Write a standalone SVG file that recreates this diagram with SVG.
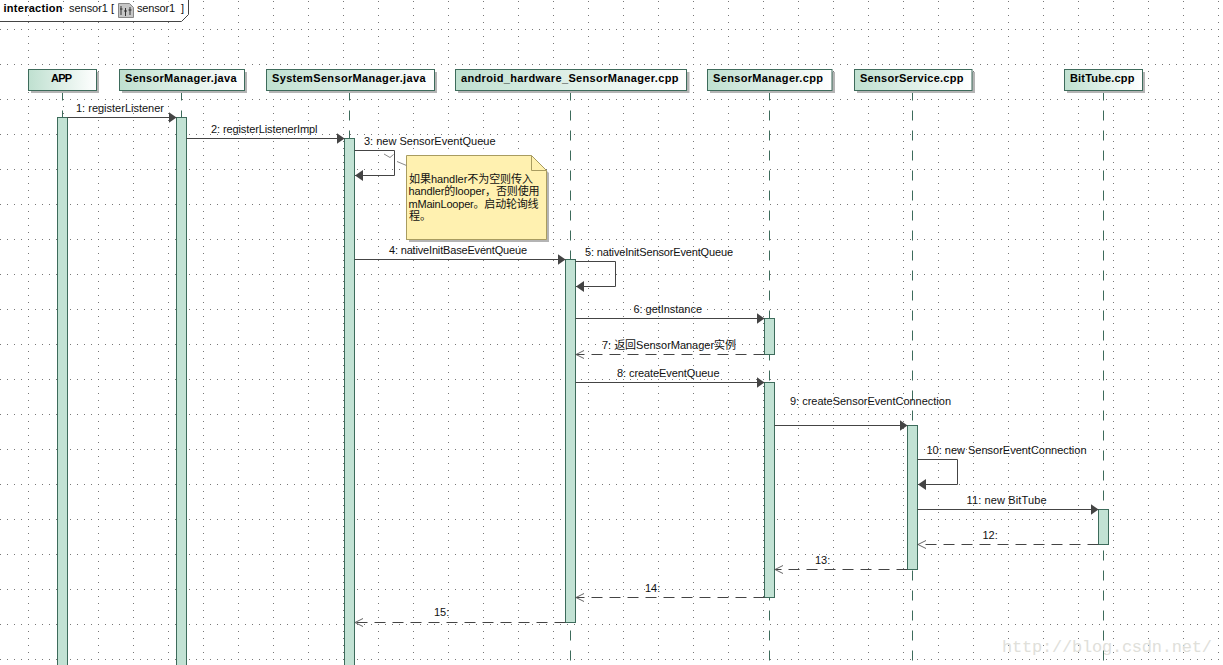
<svg xmlns="http://www.w3.org/2000/svg" width="1223" height="665" viewBox="0 0 1223 665">
<style>
text{font-family:"Liberation Sans","Noto Sans CJK SC",Arial,sans-serif;font-size:11px;fill:#111}
.cjk{font-family:"Liberation Sans","Noto Sans CJK SC",sans-serif}
.h{font-weight:bold;fill:#000}
.box{fill:url(#hg);stroke:#3d6b5b;stroke-width:1}
.shadow{fill:#b4b4b4}
.life{stroke:#3d6b5b;stroke-width:1;stroke-dasharray:10 10;fill:none}
.act{fill:#c2e2d4;stroke:#3d6b5b;stroke-width:1}
.msg{stroke:#444;stroke-width:1;fill:none;marker-end:url(#fill)}
.ret{stroke:#444;stroke-width:1;fill:none;stroke-dasharray:11 7;marker-end:url(#open)}
</style>
<defs>
<linearGradient id="hg" x1="0" y1="0" x2="1" y2="0"><stop offset="0" stop-color="#bfe0d0"/><stop offset="1" stop-color="#ffffff"/></linearGradient>
<pattern id="grid" x="28" y="29" width="35" height="35" patternUnits="userSpaceOnUse">
<g fill="#777">
<rect x="0" y="0" width="1" height="1"/><rect x="7" y="0" width="1" height="1"/><rect x="14" y="0" width="1" height="1"/><rect x="21" y="0" width="1" height="1"/><rect x="28" y="0" width="1" height="1"/>
<rect x="0" y="7" width="1" height="1"/><rect x="0" y="14" width="1" height="1"/><rect x="0" y="21" width="1" height="1"/><rect x="0" y="28" width="1" height="1"/>
</g>
</pattern>
<marker id="fill" markerUnits="userSpaceOnUse" markerWidth="10" markerHeight="12" refX="8" refY="5.500" orient="auto"><path d="M0 0L8 5.500L0 11Z" fill="#444"/></marker>
<marker id="open" markerUnits="userSpaceOnUse" markerWidth="10" markerHeight="12" refX="8.500" refY="5" orient="auto"><path d="M0 1L8 5L0 9" fill="none" stroke="#666" stroke-width="1"/></marker>
</defs>
<rect width="1223" height="665" fill="#fff"/>
<rect width="1223" height="665" fill="url(#grid)"/>
<text x="1002" y="652" textLength="210" style="font-family:'Liberation Mono',monospace;font-size:17px;fill:#e0e0da">http://blog.csdn.net/</text>

<g id="frame-tag">
<path d="M-1 21.500H181.500L188.500 14.500V-1" fill="#fff" stroke="#444"/>
<text x="3.500" y="12" class="h" textLength="59">interaction</text>
<text x="69" y="12" textLength="45">sensor1 [</text>
<path d="M118.500 3.500H129.500L133.500 7.500V17.500H118.500Z" fill="#c6c6c6" stroke="#888"/>
<path d="M121 6V15M125.500 8V16M130 7V15M120 9H122.500M124 11H127M128.500 10H131.500" stroke="#333" fill="none"/>
<text x="137" y="12" textLength="38">sensor1</text>
<text x="181" y="12">]</text>
</g>

<g id="app">
<line class="life" x1="62.500" y1="90.500" x2="62.500" y2="117"/>
<rect class="shadow" x="31" y="72" width="68" height="21"/>
<rect class="box" x="28.500" y="69.500" width="68" height="21"/>
<text class="h" x="51" y="82" textLength="21">APP</text>
<rect class="act" x="57.500" y="117.500" width="10" height="549"/>
</g>
<g id="sensormanager-java">
<line class="life" x1="181.500" y1="90.500" x2="181.500" y2="117"/>
<rect class="shadow" x="122" y="72" width="125" height="21"/>
<rect class="box" x="119.500" y="69.500" width="125" height="21"/>
<text class="h" x="125" y="82" textLength="111.500">SensorManager.java</text>
<rect class="act" x="176.500" y="117.500" width="10" height="549"/>
</g>
<g id="systemsensormanager-java">
<line class="life" x1="349.500" y1="90.500" x2="349.500" y2="138"/>
<rect class="shadow" x="269" y="72" width="168" height="21"/>
<rect class="box" x="266.500" y="69.500" width="168" height="21"/>
<text class="h" x="272" y="82" textLength="153.500">SystemSensorManager.java</text>
<rect class="act" x="344.500" y="138.500" width="10" height="528"/>
</g>
<g id="android-hardware-sensormanager-cpp">
<line class="life" x1="570.500" y1="90.500" x2="570.500" y2="665"/>
<rect class="shadow" x="458" y="72" width="231.500" height="21"/>
<rect class="box" x="455.500" y="69.500" width="231" height="21"/>
<text class="h" x="461" y="82" textLength="217.500">android_hardware_SensorManager.cpp</text>
<rect class="act" x="565.500" y="259.500" width="10" height="363"/>
</g>
<g id="sensormanager-cpp">
<line class="life" x1="769.500" y1="90.500" x2="769.500" y2="665"/>
<rect class="shadow" x="710" y="72" width="125" height="21"/>
<rect class="box" x="707.500" y="69.500" width="124.500" height="21"/>
<text class="h" x="713" y="82" textLength="110">SensorManager.cpp</text>
<rect class="act" x="764.500" y="318.500" width="10" height="36"/>
<rect class="act" x="764.500" y="382.500" width="10" height="215"/>
</g>
<g id="sensorservice-cpp">
<line class="life" x1="912.500" y1="90.500" x2="912.500" y2="665"/>
<rect class="shadow" x="857" y="72" width="118" height="21"/>
<rect class="box" x="854.500" y="69.500" width="117.500" height="21"/>
<text class="h" x="860" y="82" textLength="103.500">SensorService.cpp</text>
<rect class="act" x="907.500" y="425.500" width="10" height="144"/>
</g>
<g id="bittube-cpp">
<line class="life" x1="1103.500" y1="90.500" x2="1103.500" y2="665"/>
<rect class="shadow" x="1067" y="72" width="78" height="21"/>
<rect class="box" x="1064.500" y="69.500" width="78" height="21"/>
<text class="h" x="1070" y="82" textLength="64.500">BitTube.cpp</text>
<rect class="act" x="1098.500" y="509.500" width="10" height="35"/>
</g>

<g id="note">
<path d="M409 158H533L549 173V242H409Z" fill="#b4b4b4"/>
<path d="M406.500 155.500H531.500L546.500 170.500V239.500H406.500Z" fill="#fff1b0" stroke="#a89c60"/>
<path d="M531.500 155.500V170.500H546.500" fill="none" stroke="#a89c60"/>
<text class="cjk" x="409" y="183" textLength="124">如果handler不为空则传入</text>
<text class="cjk" x="408.500" y="195" textLength="131">handler的looper，否则使用</text>
<text class="cjk" x="408.500" y="207.500" textLength="130">mMainLooper。启动轮询线</text>
<text class="cjk" x="409" y="220">程。</text>
</g>

<g id="connectors">
<path d="M67.500 117.500H176.500" class="msg"/>
<path d="M186.500 138.500H344.500" class="msg"/>
<path d="M354.500 150.500H394.500V175.500H355" class="msg"/>
<path d="M384 154L390 157.500L393.500 154.500" fill="none" stroke="#888"/>
<path d="M397 161.500L406.500 165.500" fill="none" stroke="#888"/>
<path d="M354.500 259.500H565.500" class="msg"/>
<path d="M575.500 261.500H615.500V286.500H576" class="msg"/>
<path d="M575.500 318.500H764.500" class="msg"/>
<path d="M764.500 354.500H575.500" class="ret"/>
<path d="M575.500 382.500H764.500" class="msg"/>
<path d="M774.500 425.500H907.500" class="msg"/>
<path d="M917.500 459.500H957.500V484.500H918" class="msg"/>
<path d="M917.500 509.500H1098.500" class="msg"/>
<path d="M1098.500 544.500H917.500" class="ret"/>
<path d="M907.500 569.500H774.500" class="ret"/>
<path d="M764.500 597.500H575.500" class="ret"/>
<path d="M565.500 622.500H354.500" class="ret"/>
<text x="76" y="112" textLength="88">1:  registerListener</text>
<text x="211" y="133" textLength="106.500">2:  registerListenerImpl</text>
<text x="364" y="145" textLength="131.500">3:  new SensorEventQueue</text>
<text x="389" y="254" textLength="138">4:  nativeInitBaseEventQueue</text>
<text x="585" y="256" textLength="148">5:  nativeInitSensorEventQueue</text>
<text x="633.500" y="313" textLength="68.500">6:  getInstance</text>
<text class="cjk" x="602" y="349" textLength="134">7:  返回SensorManager实例</text>
<text x="617" y="377" textLength="102.500">8:  createEventQueue</text>
<text x="790" y="405" textLength="161">9:  createSensorEventConnection</text>
<text x="926.500" y="454" textLength="160">10:  new SensorEventConnection</text>
<text x="966.500" y="504" textLength="80">11:  new BitTube</text>
<text x="982.500" y="539">12:</text>
<text x="815" y="564">13:</text>
<text x="645" y="592">14:</text>
<text x="434" y="616">15:</text>
</g>
</svg>
